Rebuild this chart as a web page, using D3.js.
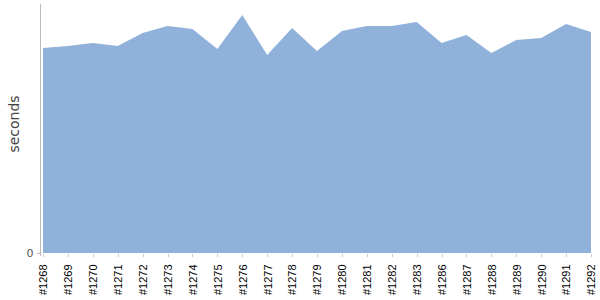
<!DOCTYPE html>
<html>
<head>
<meta charset="utf-8">
<script src="https://cdn.jsdelivr.net/npm/d3@7"></script>
<style>
  body { margin: 0; background: #fff; }
  .axis path, .axis line { fill: none; shape-rendering: crispEdges; }
</style>
</head>
<body>
<div id="chart"></div>
<script>
var builds = ['#1268', '#1269', '#1270', '#1271', '#1272', '#1273', '#1274', '#1275',
    '#1276', '#1277', '#1278', '#1279', '#1280', '#1281', '#1282', '#1283',
    '#1286', '#1287', '#1288', '#1289', '#1290', '#1291', '#1292'];
var seconds = [205, 207, 210, 207, 220, 227, 224, 204, 238, 198, 225, 202,
    222, 227, 227, 231, 210, 218, 200, 213, 215, 229, 221];
var yTicks = [0];

var width = 600,
    height = 300,
    margin = {top: 3, right: 9, bottom: 47, left: 43};

var x = d3.scalePoint()
    .domain(builds)
    .range([margin.left, width - margin.right]);

var y = d3.scaleLinear()
    .domain([0, 250])
    .range([height - margin.bottom, margin.top]);

var svg = d3.select('#chart')
    .append('svg')
    .attr('width', width)
    .attr('height', height);

var area = d3.area()
    .x(function(d, i) { return x(builds[i]); })
    .y0(y(0))
    .y1(function(d) { return y(d); });

svg.append('path')
    .datum(seconds)
    .attr('d', area)
    .attr('fill', '#8fb1da');

// y axis
var yAxis = svg.append('g')
    .attr('class', 'axis')
    .attr('transform', 'translate(' + (margin.left - 3.5) + ',0)')
    .call(d3.axisLeft(y).tickValues(yTicks).tickSize(3).tickSizeOuter(0));
yAxis.select('.domain')
    .attr('stroke', '#bbb')
    .attr('d', 'M0.5,' + (margin.top + 1) + 'V' + (y(0) + 3));
yAxis.selectAll('line').attr('stroke', '#bbb');
yAxis.selectAll('text')
    .attr('fill', '#555')
    .style('font-family', 'DejaVu Sans, sans-serif')
    .style('font-size', '11px');

// x axis
var xAxis = svg.append('g')
    .attr('class', 'axis')
    .attr('transform', 'translate(0,' + (y(0) + 0.5) + ')')
    .call(d3.axisBottom(x).tickSize(3).tickSizeOuter(0));
xAxis.select('.domain').remove();
xAxis.selectAll('line').attr('stroke', '#ccc');
xAxis.selectAll('text')
    .attr('fill', '#000')
    .style('font-family', 'Liberation Sans, Arial, sans-serif')
    .style('font-size', '11px')
    .attr('text-anchor', 'end')
    .attr('transform', 'rotate(-90)')
    .attr('x', -11)
    .attr('y', 0)
    .attr('dy', '0.35em');

svg.append('text')
    .attr('transform', 'translate(19,' + 124 + ') rotate(-90)')
    .attr('text-anchor', 'middle')
    .attr('fill', '#444')
    .style('font-family', 'DejaVu Sans, sans-serif')
    .style('font-size', '14px')
    .text('seconds');
</script>
</body>
</html>
